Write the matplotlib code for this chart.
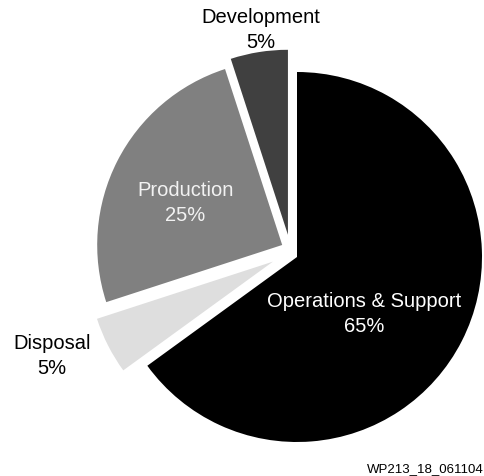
import matplotlib.pyplot as plt

# cost shares, clockwise from 12 o'clock
labels = ["Operations & Support", "Disposal", "Production", "Development"]
shares = [65, 5, 25, 5]
colors = ["#000000", "#dedede", "#808080", "#404040"]
text_colors = ["white", "black", "#f2f2f2", "black"]

# how far each slice is pulled out (radius units)
offsets = [(0, 0), (-0.13, -0.025), (-0.08, 0.065), (-0.049, 0.12)]

# where each label sits (data coords, pie radius = 1)
label_xy = [(0.362, -0.303), (-1.324, -0.530), (-0.605, 0.297), (-0.195, 1.232)]

plt.rcParams['font.family'] = ['Liberation Sans', 'DejaVu Sans']

fig = plt.figure(figsize=(4.85, 4.77), dpi=100)
ax = fig.add_axes([0, 0, 1, 1])

wedges, _ = ax.pie(shares, colors=colors, startangle=90,
                   counterclock=False, radius=1.0,
                   wedgeprops=dict(linewidth=0))
for w, (dx, dy) in zip(wedges, offsets):
    w.set_center((dx, dy))

for lab, val, (x, y), c in zip(labels, shares, label_xy, text_colors):
    ax.text(x, y, lab + "\n" + str(val) + "%", ha="center", va="center",
            fontsize=14.5, color=c, linespacing=1.4)

ax.set_xlim(-297 / 185, (485 - 297) / 185)
ax.set_ylim(-(477 - 258) / 185, 258 / 185)
ax.set_aspect("auto")
ax.axis("off")

fig.text(0.997, 0.003, "WP213_18_061104", ha="right", va="bottom", fontsize=9.5)

fig.savefig("out.png", dpi=100)
